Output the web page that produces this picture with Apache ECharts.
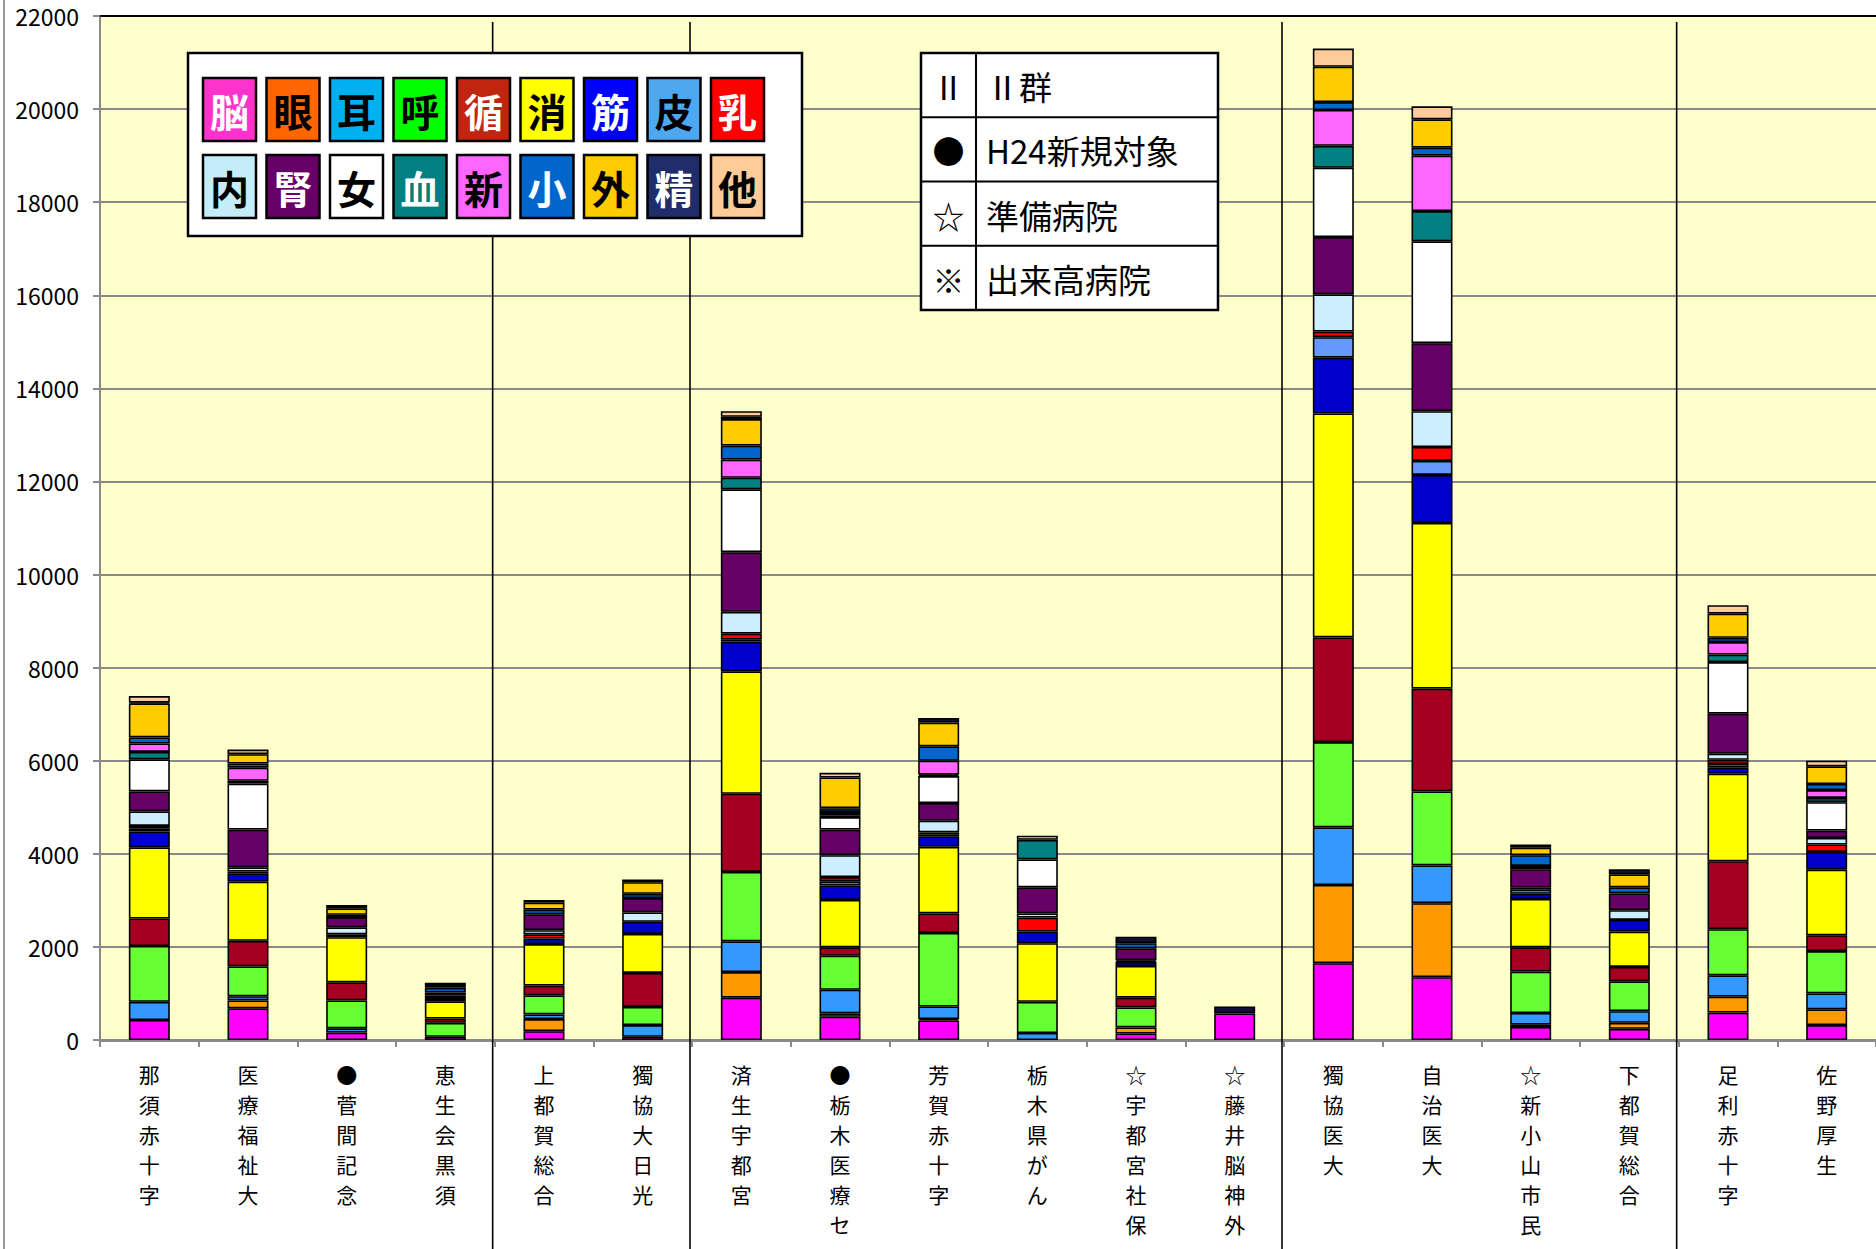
<!DOCTYPE html>
<html>
<head>
<meta charset="utf-8">
<script src="https://cdn.jsdelivr.net/npm/echarts@6.0.0/dist/echarts.min.js"></script>
<style>
html,body{margin:0;padding:0;background:#fff;}
#chart{width:1876px;height:1249px;}
</style>
</head>
<body>
<div id="chart"></div>
<script>
// ---- data ----
const categories = ['那須赤十字','医療福祉大','●菅間記念','恵生会黒須','上都賀総合','獨協大日光','済生宇都宮','●栃木医療セ','芳賀赤十字','栃木県がん','☆宇都宮社保','☆藤井脳神外','獨協医大','自治医大','☆新小山市民','下都賀総合','足利赤十字','佐野厚生'];
const seriesNames = ['脳','眼','耳','呼','循','消','筋','皮','乳','内','腎','女','血','新','小','外','精','他'];

const nou   = [430, 680, 160, 70, 190, 70, 910, 500, 420, 0, 140, 570, 1650, 1350, 280, 240, 590, 320];
const gan   = [0, 170, 0, 0, 260, 0, 550, 70, 30, 0, 130, 0, 1680, 1590, 50, 130, 340, 340];
const ji    = [390, 90, 90, 0, 100, 250, 660, 510, 270, 150, 0, 0, 1240, 810, 250, 250, 460, 340];
const ko    = [1200, 640, 600, 300, 410, 390, 1490, 730, 1580, 670, 430, 0, 1830, 1590, 890, 640, 990, 910];
const jun   = [590, 550, 390, 90, 210, 730, 1680, 180, 420, 0, 210, 0, 2250, 2210, 520, 310, 1460, 340];
const shou  = [1530, 1270, 970, 370, 890, 840, 2630, 1020, 1430, 1260, 680, 0, 4810, 3560, 1040, 760, 1880, 1410];
const kin   = [340, 180, 60, 50, 120, 260, 640, 310, 230, 250, 90, 0, 1200, 1030, 110, 250, 130, 380];
const hi    = [60, 0, 0, 0, 0, 0, 40, 90, 40, 0, 0, 0, 440, 300, 90, 0, 80, 0];
const nyu   = [60, 40, 0, 0, 90, 0, 130, 90, 40, 300, 0, 0, 120, 300, 0, 0, 90, 160];
const nai   = [310, 90, 150, 70, 90, 200, 470, 470, 250, 90, 30, 0, 800, 770, 40, 210, 130, 140];
const jin   = [430, 810, 220, 70, 340, 310, 1280, 550, 380, 560, 260, 0, 1230, 1460, 400, 360, 860, 160];
const jo    = [690, 990, 0, 0, 0, 0, 1350, 270, 580, 600, 0, 0, 1490, 2190, 70, 0, 1110, 610];
const ketsu = [160, 60, 0, 0, 0, 0, 250, 40, 30, 420, 0, 0, 470, 650, 0, 0, 160, 90];
const shin  = [180, 280, 0, 0, 0, 0, 390, 70, 300, 0, 0, 0, 770, 1190, 0, 0, 270, 170];
const shou2 = [130, 90, 50, 100, 100, 90, 300, 80, 310, 0, 110, 0, 170, 170, 230, 130, 90, 130];
const ge    = [730, 200, 140, 60, 150, 250, 570, 660, 510, 0, 0, 0, 760, 610, 160, 280, 520, 380];
const sei   = [20, 0, 70, 50, 60, 60, 50, 0, 100, 0, 140, 150, 0, 0, 70, 110, 0, 0];
const ta    = [140, 100, 0, 0, 0, 0, 120, 100, 0, 90, 0, 0, 390, 280, 0, 0, 180, 120];

const yTicks = [0, 2000, 4000, 6000, 8000, 10000, 12000, 14000, 16000, 18000, 20000, 22000];

const groupBreaks = [4, 6, 12, 16]; // separator lines before these category indices

const legendRows = [['Ⅱ','Ⅱ群'],['●','H24新規対象'],['☆','準備病院'],['※','出来高病院']];

// ---- styles ----
const allSeries = [nou, gan, ji, ko, jun, shou, kin, hi, nyu, nai, jin, jo, ketsu, shin, shou2, ge, sei, ta];
const barColors = ['#ff00ff','#ff9900','#3399ff','#66ff33','#a50021','#ffff00','#0000cc','#6699ff','#ff0000','#cceeff','#660066','#ffffff','#008080','#ff66ff','#0066cc','#ffcc00','#111133','#ffcc99'];
const tileColors = ['#ff33cc','#ff6600','#00b0f0','#00ff00','#c0260f','#ffff00','#0000ff','#4ea8f0','#ff0000','#c5ecf9','#660066','#ffffff','#008080','#ff66ff','#0066cc','#ffcc00','#1f2d6b','#ffcc99'];
const tileText = ['#fff','#000','#000','#000','#fff','#000','#fff','#000','#fff','#000','#fff','#000','#fff','#000','#fff','#000','#fff','#000'];

const FONT = '"Noto Sans CJK JP","Noto Sans",sans-serif';

const chart = echarts.init(document.getElementById('chart'), null, {renderer: 'svg'});

const series = seriesNames.map((n, i) => ({
  name: n,
  type: 'bar',
  stack: 'total',
  barWidth: 41,
  data: allSeries[i].map(v => v === 0 ? null : v),
  itemStyle: {color: barColors[i], borderColor: '#000', borderWidth: 1.6},
  emphasis: {disabled: true}
}));

// legend graphics
function legendGraphics() {
  const els = [];
  els.push({type: 'rect', shape: {x: 188, y: 53, width: 614, height: 183}, style: {fill: '#fff', stroke: '#000', lineWidth: 2.5}, z: 100});
  seriesNames.forEach((n, i) => {
    const row = i < 9 ? 0 : 1;
    const col = i % 9;
    const x = 203 + col * 63.5;
    const y = row === 0 ? 78 : 155;
    els.push({type: 'rect', shape: {x: x, y: y, width: 53, height: 63}, style: {fill: tileColors[i], stroke: '#000', lineWidth: 2.5}, z: 101});
    els.push({type: 'text', x: x + 26.5, y: y + 32, style: {text: n, fill: tileText[i], font: 'bold 39px ' + FONT, textAlign: 'center', textVerticalAlign: 'middle', align: 'center', verticalAlign: 'middle'}, z: 102});
  });
  // second box
  const bx = 921, by = 53, bw = 297, rh = 64.25;
  els.push({type: 'rect', shape: {x: bx, y: by, width: bw, height: rh * 4}, style: {fill: '#fff', stroke: '#000', lineWidth: 2.5}, z: 100});
  els.push({type: 'line', shape: {x1: 976, y1: by, x2: 976, y2: by + rh * 4}, style: {stroke: '#000', lineWidth: 2}, z: 101});
  for (let r = 1; r < 4; r++) {
    els.push({type: 'line', shape: {x1: bx, y1: by + rh * r, x2: bx + bw, y2: by + rh * r}, style: {stroke: '#000', lineWidth: 2}, z: 101});
  }
  legendRows.forEach((row, r) => {
    const cy = by + rh * r + rh / 2 + 1;
    els.push({type: 'text', x: 948.5, y: cy, style: {text: row[0], fill: '#000', font: '32px ' + FONT, textAlign: 'center', textVerticalAlign: 'middle', align: 'center', verticalAlign: 'middle'}, z: 102});
    els.push({type: 'text', x: 986, y: cy, style: {text: row[1], fill: '#000', font: '33px ' + FONT, textAlign: 'left', textVerticalAlign: 'middle', align: 'left', verticalAlign: 'middle'}, z: 102});
  });
  // left edge grey line
  els.push({type: 'line', shape: {x1: 4, y1: 0, x2: 4, y2: 1249}, style: {stroke: '#999', lineWidth: 2}, z: 1});
  return els;
}

const option = {
  animation: false,
  backgroundColor: '#ffffff',
  grid: {left: 100, right: 0, top: 16, bottom: 209, show: true, backgroundColor: '#ffffcc', borderWidth: 0},
  xAxis: [{
    type: 'category',
    data: categories,
    axisLine: {lineStyle: {color: '#8a8a8a', width: 3}},
    axisTick: {show: true, interval: 0, length: 7, lineStyle: {color: '#8a8a8a', width: 2}},
    axisLabel: {
      interval: 0, margin: 19, color: '#000', fontSize: 21, lineHeight: 30, fontFamily: FONT,
      formatter: v => v.split('').join('\n')
    },
    splitLine: {show: false}
  }, {
    type: 'category',
    data: categories,
    position: 'top',
    axisLine: {lineStyle: {color: '#000', width: 2}},
    axisTick: {show: false},
    axisLabel: {show: false}
  }],
  yAxis: {
    type: 'value',
    min: yTicks[0],
    max: yTicks[yTicks.length - 1],
    interval: yTicks[1] - yTicks[0],
    axisLine: {show: true, lineStyle: {color: '#8a8a8a', width: 2}},
    axisTick: {show: true, length: 7, lineStyle: {color: '#8a8a8a', width: 2}},
    axisLabel: {color: '#000', fontSize: 23, margin: 21, fontFamily: FONT, formatter: v => String(v)},
    splitLine: {show: true, lineStyle: {color: '#8a8a8a', width: 2}}
  },
  series: series,
  graphic: legendGraphics()
};

chart.setOption(option);

// group separator lines between categories
const seps = groupBreaks.map(k => {
  const a = chart.convertToPixel({xAxisIndex: 0}, k - 1);
  const b = chart.convertToPixel({xAxisIndex: 0}, k);
  const x = (a + b) / 2 - 2;
  return {type: 'line', shape: {x1: x, y1: 22, x2: x, y2: 1249}, style: {stroke: '#000', lineWidth: 1.6}, z: 50};
});
chart.setOption({graphic: legendGraphics().concat(seps)}, {replaceMerge: ['graphic']});
</script>
</body>
</html>
